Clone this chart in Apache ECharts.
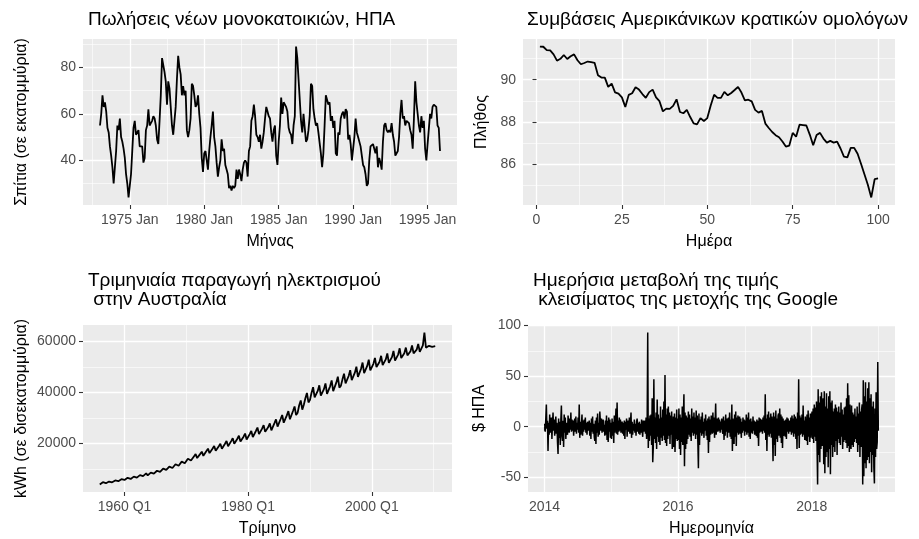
<!DOCTYPE html>
<html><head><meta charset="utf-8">
<script src="https://cdn.jsdelivr.net/npm/echarts@6/dist/echarts.min.js"></script>
<style>html,body{margin:0;padding:0;background:#fff}#c{width:919px;height:539px}</style>
</head><body><div id="c"></div>
<script>
// ---------- Panel 1: US new single-family house sales (monthly, from 1973 Jan) ----------
const hsalesStartYear = 1973;
const hsalesValues = [
 55,60,68,63,65,61,54,52,46,42,37,30,
 37,44,55,53,58,50,48,45,41,34,30,24,
 29,34,44,54,57,51,51,53,46,46,46,39,
 41,53,55,62,55,56,57,59,58,55,49,47,
 57,68,84,81,78,74,64,74,71,63,55,51,
 57,63,75,85,80,77,68,72,68,70,53,50,
 53,58,73,72,68,63,64,68,60,54,41,35,
 43,44,44,36,44,50,55,61,50,46,39,33,
 37,40,49,44,45,38,36,34,28,29,27,29,
 28,29,36,32,36,34,31,36,39,40,39,33,
 44,46,57,59,64,59,51,50,48,51,45,48,
 52,58,63,61,59,58,52,48,53,55,42,38,
 48,55,67,60,65,65,63,61,54,52,51,47,
 55,59,89,84,75,66,57,52,60,54,48,49,
 53,59,73,72,62,58,55,56,52,52,43,37,
 43,55,68,68,64,65,57,59,54,57,43,42,
 52,51,58,60,61,58,62,61,49,51,47,40,
 45,50,58,52,50,50,46,46,38,37,34,29,
 30,40,46,46,47,47,43,46,37,41,39,36,
 48,55,56,53,52,53,52,56,51,48,42,42,
 44,50,60,66,58,59,55,57,57,56,53,51,
 45,58,74,65,65,55,52,59,54,57,45,40,
 47,47,60,58,63,64,64,63,55,54,44
];
const hsalesXTicks = [1975, 1980, 1985, 1990, 1995];
const hsalesXLabels = ['1975 Jan', '1980 Jan', '1985 Jan', '1990 Jan', '1995 Jan'];
const hsalesXMinor = [1972.5, 1977.5, 1982.5, 1987.5, 1992.5];
const hsalesYTicks = [40, 60, 80];
const hsalesYLabels = ['40', '60', '80'];
const hsalesYMinor = [30, 50, 70, 90];

// ---------- Panel 2: US treasury bill contracts (100 days) ----------
const ustreasValues = [
 91.57,91.56,91.40,91.39,91.20,90.90,90.99,91.17,90.98,91.11,
 91.20,90.92,90.73,90.79,90.86,90.83,90.80,90.21,90.10,90.10,
 89.66,89.81,89.40,89.34,89.16,88.71,89.28,89.36,89.64,89.53,
 89.32,89.14,89.41,89.53,89.16,88.98,88.50,88.63,88.62,88.76,
 89.07,88.47,88.41,88.57,88.23,87.93,87.88,88.18,88.04,88.18,
 88.78,89.29,89.14,89.14,89.42,89.26,89.37,89.51,89.66,89.39,
 89.02,89.05,88.97,88.57,88.44,88.52,87.92,87.71,87.52,87.37,
 87.27,87.07,86.83,86.88,87.48,87.30,87.87,87.85,87.83,87.40,
 86.89,87.38,87.48,87.21,87.02,87.10,87.02,87.07,86.74,86.35,
 86.32,86.77,86.77,86.49,86.02,85.52,85.02,84.42,85.29,85.32
];
const ustreasXTicks = [0, 25, 50, 75, 100];
const ustreasXLabels = ['0', '25', '50', '75', '100'];
const ustreasXMinor = [12.5, 37.5, 62.5, 87.5];
const ustreasYTicks = [86, 88, 90];
const ustreasYLabels = ['86', '88', '90'];
const ustreasYMinor = [85, 87, 89, 91];

// ---------- Panel 3: Australian quarterly electricity production (from 1956 Q1) ----------
const elecStartYear = 1956;
const elecValues = [
 3923,4436,4806,4418, 4395,4794,5053,4559, 4769,5202,5483,4947, 5189,5661,5966,5384,
 5657,6171,6504,5869, 6078,6630,6988,6305, 6592,7191,7579,6839, 7200,7854,8278,7469,
 7854,8568,9030,8148, 8509,9282,9783,8827, 9257,10098,10643,9603, 10005,10914,11503,10379,
 10846,11832,12470,11252, 11781,12852,13545,12222, 12810,13974,14728,13289, 13745,14994,15803,14259,
 14586,15912,16770,15132, 15615,17034,17953,16199, 16550,18054,19028,17169, 17298,18870,19888,17945,
 18233,19890,20963,18915, 19168,20910,22038,19885, 20009,21828,23005,20758, 20757,22644,23865,21534,
 21692,23664,24940,22504, 22814,24888,26230,23668, 23656,25806,27198,24541, 24217,26418,27843,25123,
 25619,27948,29455,26578, 27115,29580,31175,28130, 28424,31008,32680,29488, 30014,32742,34508,31137,
 32071,34986,36873,33271, 35154,37758,39804,36084, 37139,39890,42051,38121, 37800,40600,42800,38800,
 38462,41311,43549,39479, 39501,42427,44726,40546, 40824,43848,46224,41904, 42689,45147,47382,43583,
 43930,46460,48760,44850, 45172,47773,50138,46118, 46604,49288,51728,47580, 47655,50399,52894,48653,
 49215,51255,53550,49980, 49987,52059,54390,50764, 50856,52964,55335,51646, 51724,53868,56280,52528,
 52689,54873,57330,53508, 54015,55400,57616,54569, 54795,56200,58448,55357, 55380,56800,59072,55948,
 55800,58500,63500,57600, 57200,58300,58600,57900, 58100,58158
];
const elecXTicks = [1960, 1980, 2000];
const elecXLabels = ['1960 Q1', '1980 Q1', '2000 Q1'];
const elecXMinor = [1950, 1970, 1990, 2010];
const elecYTicks = [20000, 40000, 60000];
const elecYLabels = ['20000', '40000', '60000'];
const elecYMinor = [10000, 30000, 50000];

// ---------- Panel 4: daily change in Google closing price (2014-2018, ~10 readings per month) ----------
const googStart = '2014-01-02';
const googEnd = '2018-12-31';
const googChange = [
 // 2014
 3,-5,8,22,-2,6,-24,4,-8,12,  -6,5,9,-12,3,14,-4,7,-9,2,  10,-7,4,-15,-27,8,-11,5,-18,6,
 21,-9,-14,6,-20,12,-6,9,-12,4,  5,-8,11,3,-6,8,-3,14,-5,7,  -4,6,-9,3,8,-5,10,-7,4,-3,
 9,-6,22,-11,5,-8,3,12,-9,6,  -5,7,-3,9,-6,4,-8,5,2,-4,  6,-9,4,-12,8,-5,10,-7,3,-10,
 -14,6,-17,9,-6,13,-10,4,-8,15,  5,-4,8,-6,3,7,-5,2,-9,6,  -8,11,-13,6,-15,9,-5,7,-11,4,
 // 2015
 -12,8,-9,5,-16,11,-6,4,18,-7,  24,-8,6,-5,9,-4,7,-6,3,5,  -7,4,-9,6,-12,5,-3,8,-10,4,
 6,-5,9,-7,4,14,-11,5,-8,3,  -4,7,-6,3,-9,5,8,-5,4,-7,  5,-8,3,-6,7,-4,-10,6,-5,4,
 6,-7,9,-12,5,93,-21,8,-14,11,  -9,12,-18,28,-35,-20,47,-12,9,-16,  14,-22,27,-10,12,-15,8,-18,20,-11,
 9,-14,17,-9,25,-13,51,-16,12,-19,  18,-12,20,-9,14,-17,11,-8,15,-22,  -16,10,-20,13,-25,9,-12,17,-14,8,
 // 2016
 -13,18,-22,12,-28,9,-15,20,-18,10,  32,-39,14,-22,11,-17,9,-12,15,-8,  12,-10,8,-14,18,-6,10,-9,14,-7,
 9,-12,16,-8,11,-15,-41,13,-18,7,  -6,10,-9,14,-7,5,-11,8,-4,12,  -9,6,-13,8,-26,10,-15,7,-8,11,
 10,-7,14,-6,9,-11,5,23,-8,6,  8,-5,9,-4,7,-6,5,-3,8,-5,  -7,10,-13,6,-9,12,-5,8,-11,7,
 9,-6,14,-10,7,-12,22,-24,8,-15,  -17,12,-10,15,-19,9,-6,11,-8,6,  10,-7,8,-11,5,-6,9,-4,7,-9,
 // 2017
 6,-5,12,-8,9,-6,14,-10,7,-12,  8,-6,5,-7,10,-4,6,-8,5,4,  -9,7,-11,6,-19,9,-6,8,-5,7,
 5,-7,9,-4,11,-6,32,-13,8,-24,  12,-8,15,-10,9,-7,13,-11,10,-6,  -34,14,-18,10,-29,16,-12,8,-15,11,
 13,-9,18,-11,12,-16,10,-21,8,-9,  -8,6,-10,7,-12,9,-5,8,-7,6,  7,-5,9,-8,11,-6,8,-10,12,-7,
 10,-12,8,-22,14,-9,47,-21,11,-8,  9,-7,12,-10,21,-8,6,-13,10,-11,  -14,12,-18,16,-10,9,-15,13,-11,8,
 // 2018
 15,-12,18,-16,22,-10,19,-14,25,-18,  -57,37,-28,24,-35,30,-22,34,-19,16,  28,-37,35,-46,20,-30,33,-25,18,-40,
 30,-22,35,-47,24,-18,26,-30,15,-20,  18,-25,22,-14,19,-28,15,-12,20,-16,  14,-18,24,-10,17,-22,12,-15,19,-13,
 20,-16,28,-21,43,-19,31,-25,22,-17,  -22,21,-18,14,-20,12,-15,18,-12,10,  -16,20,-25,13,-18,24,-30,15,-20,17,
 22,-57,46,-49,30,-36,44,-41,25,-33,  38,-30,44,-36,28,-25,32,-45,20,-28,  25,-40,-56,18,-30,34,-22,-15,64,-4
];
const googXTicks = ['2014-01-01', '2016-01-01', '2018-01-01'];
const googXLabels = ['2014', '2016', '2018'];
const googXMinor = ['2015-01-01', '2017-01-01', '2019-01-01'];
const googYTicks = [-50, 0, 50, 100];
const googYLabels = ['-50', '0', '50', '100'];
const googYMinor = [-75, -25, 25, 75];

// ---------- Texts ----------
const titles = [
  'Πωλήσεις νέων μονοκατοικιών, ΗΠΑ',
  'Συμβάσεις Αμερικάνικων κρατικών ομολόγων',
  'Τριμηνιαία παραγωγή ηλεκτρισμού\n στην Αυστραλία',
  'Ημερήσια μεταβολή της τιμής\n κλεισίματος της μετοχής της Google'
];
const xNames = ['Μήνας', 'Ημέρα', 'Τρίμηνο', 'Ημερομηνία'];
const yNames = ['Σπίτια (σε εκατομμύρια)', 'Πλήθος', 'kWh (σε δισεκατομμύρια)', '$ ΗΠΑ'];

// ---------- Build ----------
const FONT = '"Liberation Sans", Arial, Helvetica, sans-serif';
const ts = s => Date.parse(s + 'T00:00:00Z');

function expand(arr) {
  let mn = Infinity, mx = -Infinity;
  arr.forEach(v => { if (v < mn) mn = v; if (v > mx) mx = v; });
  const d = (mx - mn) * 0.05;
  return [mn - d, mx + d];
}
function labeller(ticks, labels) {
  return v => {
    for (let k = 0; k < ticks.length; k++) {
      if (Math.abs(ticks[k] - v) <= 1e-7 * Math.max(1, Math.abs(ticks[k]))) return labels[k];
    }
    return '';
  };
}

const hsalesData = hsalesValues.map((v, i) => [hsalesStartYear + i / 12, v]);
const ustreasData = ustreasValues.map((v, i) => [i + 1, v]);
const elecData = elecValues.map((v, i) => [elecStartYear + i / 4, v]);
const g0 = ts(googStart), g1 = ts(googEnd), gn = googChange.length;
const googData = googChange.map((v, i) => [g0 + i * (g1 - g0) / (gn - 1), v]);

const panels = [
  { grid: {left: 83, top: 39, width: 374, height: 166}, data: hsalesData,
    xt: hsalesXTicks, xl: hsalesXLabels, xm: hsalesXMinor, yt: hsalesYTicks, yl: hsalesYLabels, ym: hsalesYMinor,
    title: {left: 83, top: 5}, yGap: 53, lw: 1.8 },
  { grid: {left: 523, top: 39, width: 372, height: 166}, data: ustreasData,
    xt: ustreasXTicks, xl: ustreasXLabels, xm: ustreasXMinor, yt: ustreasYTicks, yl: ustreasYLabels, ym: ustreasYMinor,
    title: {left: 522, top: 5}, yGap: 33, lw: 1.8 },
  { grid: {left: 83, top: 325, width: 369, height: 167}, data: elecData,
    xt: elecXTicks, xl: elecXLabels, xm: elecXMinor, yt: elecYTicks, yl: elecYLabels, ym: elecYMinor,
    title: {left: 83, top: 266}, yGap: 53, lw: 1.8 },
  { grid: {left: 528, top: 325, width: 367, height: 167}, data: googData,
    xt: googXTicks.map(ts), xl: googXLabels, xm: googXMinor.map(ts), yt: googYTicks, yl: googYLabels, ym: googYMinor,
    title: {left: 528, top: 266}, yGap: 40, lw: 1.5 }
];

const option = { animation: false, backgroundColor: '#fff', title: [], grid: [], xAxis: [], yAxis: [], series: [] };

panels.forEach((p, i) => {
  const xr = expand(p.data.map(d => d[0]));
  const yr = expand(p.data.map(d => d[1]));
  option.grid.push(Object.assign({show: true, backgroundColor: '#EBEBEB', borderWidth: 0, containLabel: false}, p.grid));
  option.title.push({
    text: titles[i], left: p.title.left, top: p.title.top,
    textStyle: {fontFamily: FONT, fontSize: 19, fontWeight: 'normal', color: '#000', lineHeight: 19}
  });
  const xi = option.xAxis.length, yi = option.yAxis.length;
  option.xAxis.push({
    type: 'value', gridIndex: i, min: xr[0], max: xr[1], position: 'bottom',
    axisLine: {show: false},
    axisTick: {show: true, length: 4, lineStyle: {color: '#333', width: 1.1}, customValues: p.xt},
    axisLabel: {show: true, customValues: p.xt, formatter: labeller(p.xt, p.xl), color: '#4D4D4D',
                fontSize: 14, fontFamily: FONT, margin: 8},
    splitLine: {show: true, lineStyle: {color: '#FFFFFF', width: 1.3}},
    name: xNames[i], nameLocation: 'middle', nameGap: 29,
    nameTextStyle: {color: '#000', fontSize: 16, fontFamily: FONT}
  });
  option.xAxis.push({
    type: 'value', gridIndex: i, min: xr[0], max: xr[1], position: 'top',
    axisLine: {show: false}, axisLabel: {show: false},
    axisTick: {show: false, customValues: p.xm},
    splitLine: {show: true, lineStyle: {color: '#FFFFFF', width: 0.6}}
  });
  option.yAxis.push({
    type: 'value', gridIndex: i, min: yr[0], max: yr[1], position: 'left',
    axisLine: {show: false},
    axisTick: {show: true, length: 4, lineStyle: {color: '#333', width: 1.1}, customValues: p.yt},
    axisLabel: {show: true, customValues: p.yt, formatter: labeller(p.yt, p.yl), color: '#4D4D4D',
                fontSize: 14, fontFamily: FONT, margin: 7},
    splitLine: {show: true, lineStyle: {color: '#FFFFFF', width: 1.3}},
    name: yNames[i], nameLocation: 'middle', nameGap: p.yGap, nameRotate: 90,
    nameTextStyle: {color: '#000', fontSize: 16, fontFamily: FONT}
  });
  option.yAxis.push({
    type: 'value', gridIndex: i, min: yr[0], max: yr[1], position: 'right',
    axisLine: {show: false}, axisLabel: {show: false},
    axisTick: {show: false, customValues: p.ym},
    splitLine: {show: true, lineStyle: {color: '#FFFFFF', width: 0.6}}
  });
  option.series.push({
    type: 'line', xAxisIndex: xi, yAxisIndex: yi, data: p.data,
    showSymbol: false, symbol: 'none', silent: true, sampling: null,
    lineStyle: {color: '#000', width: p.lw}, z: 5
  });
});

const chart = echarts.init(document.getElementById('c'), null, {renderer: 'canvas'});
chart.setOption(option);
</script>
</body></html>
